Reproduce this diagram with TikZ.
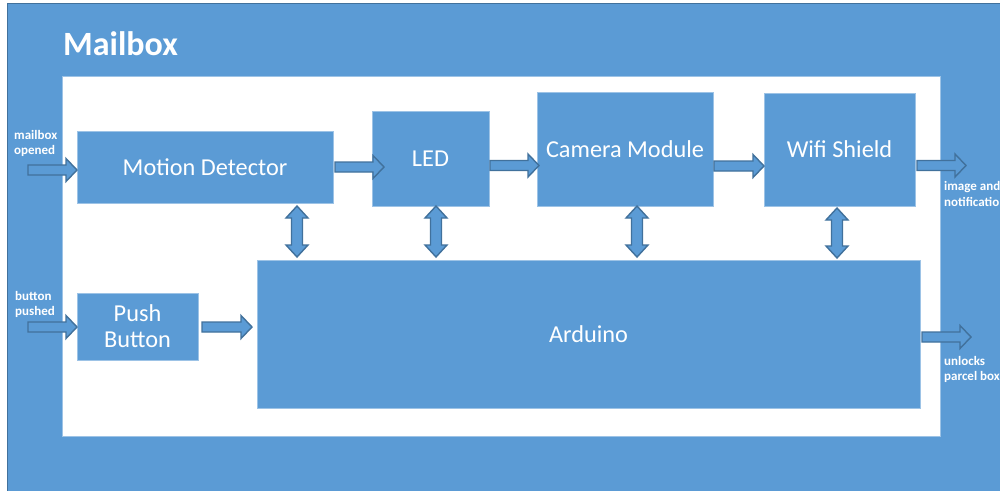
\documentclass[tikz,border=0pt]{standalone}
\usepackage{fontspec}
\setmainfont{Carlito}
\usetikzlibrary{calc}
\definecolor{pblue}{HTML}{5B9BD5}
\definecolor{pdark}{HTML}{41719C}
\definecolor{plight}{HTML}{9DC3E6}
\newcommand\harrow[2]{%
  \draw[blockarrow] let \p1=(#1), \p2=(#2) in
   (\x1,\y1+5) -- (\x2-11,\y1+5) -- (\x2-11,\y1+11.5) -- (\x2,\y1) --
   (\x2-11,\y1-11.5) -- (\x2-11,\y1-5) -- (\x1,\y1-5) -- cycle;}
\newcommand\vdarrow[2]{%
  \draw[blockarrow] let \p1=(#1), \p2=(#2) in
   (\x1,\y1) -- (\x1+11,\y1-12) -- (\x1+5.5,\y1-12) -- (\x1+5.5,\y2+12) --
   (\x1+11,\y2+12) -- (\x1,\y2) -- (\x1-11,\y2+12) -- (\x1-5.5,\y2+12) --
   (\x1-5.5,\y1-12) -- (\x1-11,\y1-12) -- cycle;}
\begin{document}
\begin{tikzpicture}[x=1pt,y=-1pt,
  box/.style={draw=plight, line width=0.6pt, fill=pblue, text=white,
    font=\fontsize{24.3}{26}\selectfont, inner sep=0pt, align=center},
  lbl/.style={text=white, font=\bfseries\fontsize{13}{15.5}\selectfont,
    align=left, inner sep=0pt},
  blockarrow/.style={draw=pdark, line width=1.4pt, fill=pblue, line join=miter}]
\useasboundingbox (0,0) rectangle (1000,490);
\clip (0,0) rectangle (1000,490);
\fill[white] (0,0) rectangle (1000,490);
% outer frame
\draw[pdark, line width=1.5pt, fill=pblue] (7.5,3.5) rectangle (1010,500);
\draw[plight, line width=0.6pt, fill=white] (62,76) rectangle (940,436);
\node[text=white, font=\bfseries\fontsize{34}{36}\selectfont, inner sep=0pt, anchor=base west] (title) at (63,55) {Mailbox};
% boxes
\node[box, minimum width=256pt, minimum height=72pt] (md) at (205,167) {Motion Detector};
\node[box, minimum width=117pt, minimum height=95pt] (led) at (430.5,158.5) {LED};
\node[box, minimum width=176pt, minimum height=114pt] (cam) at (625,149) {Camera Module};
\node[box, minimum width=151pt, minimum height=113pt] (wifi) at (839.5,149.5) {Wifi Shield};
\node[box, minimum width=663pt, minimum height=148pt] (ard) at (588.5,334) {Arduino};
\node[box, minimum width=121pt, minimum height=67pt] (pb) at (137.5,326.5) {Push\\Button};
% labels (base anchor = baseline of the last line)
\node[lbl, anchor=base west] (lmo) at (14,154.5) {mailbox\\opened};
\node[lbl, anchor=base west] (lbp) at (15,315.5) {button\\pushed};
\node[lbl, anchor=base west] (lin) at (944,206) {image and\\notification};
\node[lbl, anchor=base west] (lun) at (944,380.5) {unlocks\\parcel box};
% arrow coordinates
\coordinate (a1s) at (28,170);  \coordinate (a1e) at (77,170);
\coordinate (a2s) at (335,167); \coordinate (a2e) at (384,167);
\coordinate (a3s) at (490,165.5); \coordinate (a3e) at (539,165.5);
\coordinate (a4s) at (714,166); \coordinate (a4e) at (764,166);
\coordinate (a5s) at (917,165.5); \coordinate (a5e) at (966,165.5);
\coordinate (a6s) at (922,337); \coordinate (a6e) at (971,337);
\coordinate (a7s) at (28,327);  \coordinate (a7e) at (77,327);
\coordinate (a8s) at (202,327); \coordinate (a8e) at (252,327);
\coordinate (v1t) at (297,206); \coordinate (v1b) at (297,257);
\coordinate (v2t) at (436,206); \coordinate (v2b) at (436,257);
\coordinate (v3t) at (637,206); \coordinate (v3b) at (637,257);
\coordinate (v4t) at (837,208); \coordinate (v4b) at (837,258);
\harrow{a1s}{a1e}
\harrow{a2s}{a2e}
\harrow{a3s}{a3e}
\harrow{a4s}{a4e}
\harrow{a5s}{a5e}
\harrow{a6s}{a6e}
\harrow{a7s}{a7e}
\harrow{a8s}{a8e}
\vdarrow{v1t}{v1b}
\vdarrow{v2t}{v2b}
\vdarrow{v3t}{v3b}
\vdarrow{v4t}{v4b}
\end{tikzpicture}
\end{document}
